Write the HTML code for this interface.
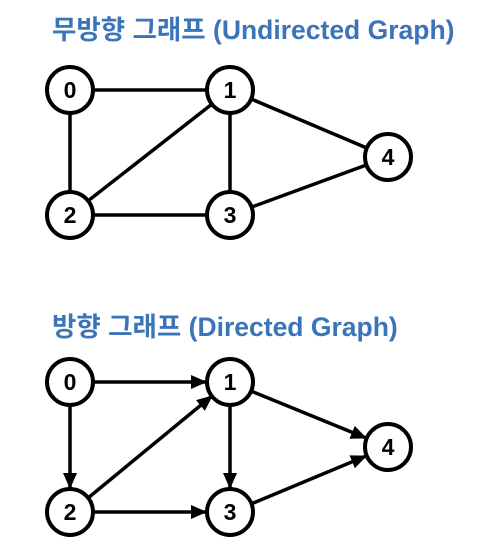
<!DOCTYPE html>
<html><head><meta charset="utf-8"><style>
html,body{margin:0;padding:0;background:#fff;width:500px;height:556px;overflow:hidden}
svg{display:block}
.t{font-family:"Liberation Sans","Noto Sans CJK KR",sans-serif;font-weight:bold;fill:#3b74b8;font-size:26.5px}
.n{font-family:"Liberation Sans",sans-serif;font-weight:bold;font-size:23px;fill:#000;text-anchor:middle}
circle{fill:#fff;stroke:#000;stroke-width:4}
line{stroke:#000;stroke-width:3.5}
</style></head><body>
<svg width="500" height="556" viewBox="0 0 500 556">
<defs><marker id="a" markerWidth="5" markerHeight="5" refX="4.5" refY="2.5" orient="auto" markerUnits="userSpaceOnUse" viewBox="0 0 5 5" style="overflow:visible"><path d="M0,0 L5,2.5 L0,5 z" fill="#000"/></marker>
<marker id="b" markerWidth="16" markerHeight="16" refX="15" refY="8" orient="auto" markerUnits="userSpaceOnUse"><path d="M0,1 L16,8 L0,15 z" fill="#000"/></marker></defs>
<text class="t" x="52" y="39">무방향 그래프 (Undirected Graph)</text>
<line x1="70" y1="90" x2="230" y2="90"/>
<line x1="70" y1="90" x2="70" y2="215"/>
<line x1="70" y1="215" x2="230" y2="215"/>
<line x1="70" y1="215" x2="230" y2="90"/>
<line x1="230" y1="90" x2="230" y2="215"/>
<line x1="230" y1="90" x2="388" y2="157"/>
<line x1="230" y1="215" x2="388" y2="157"/>
<circle cx="70" cy="90" r="23"/><text class="n" x="70" y="98">0</text>
<circle cx="230" cy="90" r="23"/><text class="n" x="230" y="98">1</text>
<circle cx="70" cy="215" r="23"/><text class="n" x="70" y="223">2</text>
<circle cx="230" cy="215" r="23"/><text class="n" x="230" y="223">3</text>
<circle cx="388" cy="157" r="23"/><text class="n" x="388" y="165">4</text>
<text class="t" x="52" y="336">방향 그래프 (Directed Graph)</text>
<line x1="92" y1="382" x2="206" y2="382" marker-end="url(#b)"/>
<line x1="70" y1="404" x2="70" y2="488" marker-end="url(#b)"/>
<line x1="92" y1="512" x2="206" y2="512" marker-end="url(#b)"/>
<line x1="88" y1="498" x2="212" y2="396" marker-end="url(#b)"/>
<line x1="230" y1="404" x2="230" y2="488" marker-end="url(#b)"/>
<line x1="251" y1="391" x2="366" y2="438" marker-end="url(#b)"/>
<line x1="251" y1="504" x2="366" y2="456" marker-end="url(#b)"/>
<circle cx="70" cy="382" r="23"/><text class="n" x="70" y="390">0</text>
<circle cx="230" cy="382" r="23"/><text class="n" x="230" y="390">1</text>
<circle cx="70" cy="512" r="23"/><text class="n" x="70" y="520">2</text>
<circle cx="230" cy="512" r="23"/><text class="n" x="230" y="520">3</text>
<circle cx="388" cy="447" r="23"/><text class="n" x="388" y="455">4</text>
</svg>
</body></html>
